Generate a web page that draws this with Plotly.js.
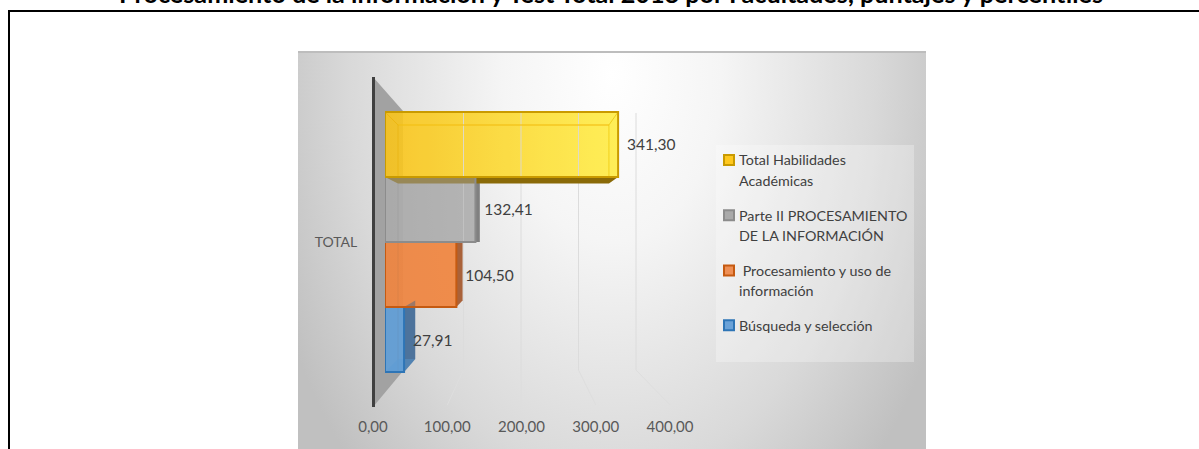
<!DOCTYPE html>
<html><head><meta charset="utf-8">
<script src="https://cdn.plot.ly/plotly-3.0.1.min.js"></script>
<style>html,body{margin:0;padding:0;background:#fff}#c{width:1199px;height:449px}</style>
</head><body><div id="c"></div>
<script>
const chartTitle = 'Procesamiento de la información y Test Total 2018 por Facultades, puntajes y percentiles';
const category = ['TOTAL'];
const seriesNames = ['Búsqueda y selección', ' Procesamiento y uso de<br>información', 'Parte II PROCESAMIENTO<br>DE LA INFORMACIÓN', 'Total Habilidades<br>Académicas'];
const seriesValues = [27.91, 104.50, 132.41, 341.30];
const faceColors = ['rgba(91,155,213,0.5)', 'rgba(237,125,49,0.5)', 'rgba(165,165,165,0.5)', 'rgba(255,205,30,0.12)'];
const swatchColors = ['#6aa2d8', '#ee8f55', '#a9a9a9', '#ffc81e'];
const edgeColors = ['#2e75b6', '#c55a11', '#8c8c8c', '#c99a00'];
const sideColors = ['#4d739c', '#a9623a', '#808080', '#8a6a08'];
const gradLeft = ['#6aa2d8', '#ee8f55', '#b0b0b0', '#f9c31a'];
const gradRight = ['#6aa2d8', '#f39052', '#bcbcbc', '#fff24a'];
const tickValues = [0, 100, 200, 300, 400];
const tickLabels = ['0,00', '100,00', '200,00', '300,00', '400,00'];

const W = 1199, H = 449;
const FONT = 'Lato, "Open Sans", sans-serif';
const px = x => x / W, py = y => 1 - y / H;
const xFront0 = 385, xFrontK = 0.683, xMax = 400;
const yTop = 77, yBot = 407, gap = 0.212, yMid = (yTop + yBot) / 2;
const barH = (yBot - yTop) * (1 - gap) / 4;
const frontY = i => [yMid + (1 - i) * barH, yMid + (2 - i) * barH];
const backX = v => 398 + 0.618 * v;
const frontX = v => xFront0 + xFrontK * v;
const backY = y => yMid + (y - yMid) * 0.9;
const gridX = v => 406 + 0.575 * v;
const tickX = v => 373 + 0.7425 * v;

function svgUri(s) { return 'data:image/svg+xml;utf8,' + encodeURIComponent(s); }
const bgSvg = `<svg xmlns="http://www.w3.org/2000/svg" width="628" height="398" preserveAspectRatio="none">
<defs><radialGradient id="g" cx="0.5" cy="0.06" r="1" gradientTransform="translate(.5,.06) scale(.58,1.4) translate(-.5,-.06)">
<stop offset="0" stop-color="#ffffff"/><stop offset=".3" stop-color="#f5f5f5"/><stop offset=".72" stop-color="#d9d9d9"/><stop offset="1" stop-color="#c0c0c0"/></radialGradient></defs>
<rect width="628" height="398" fill="url(#g)"/><rect width="628" height="2" fill="#bdbdbd"/>
<polygon points="75,26 105,60 105,320 75,356" fill="#a2a2a2"/></svg>`;
const images = [{source: svgUri(bgSvg), xref: 'paper', yref: 'paper', x: px(298), y: py(51), sizex: 628 / W, sizey: 398 / H, sizing: 'stretch', xanchor: 'left', yanchor: 'top', layer: 'below'}];
const shapes = [];
function poly(pts, fill) {
  const d = 'M' + pts.map(p => px(p[0]) + ',' + py(p[1])).join('L') + 'Z';
  shapes.push({type: 'path', xref: 'paper', yref: 'paper', path: d, fillcolor: fill, line: {color: 'rgba(0,0,0,0)', width: 0}, layer: 'below'});
}
function seg(x0, y0, x1, y1, c, w) {
  shapes.push({type: 'line', xref: 'paper', yref: 'paper', x0: px(x0), y0: py(y0), x1: px(x1), y1: py(y1), line: {color: c, width: w || 1}, layer: 'below'});
}
// legend panel
shapes.push({type: 'rect', xref: 'paper', yref: 'paper', x0: px(716), x1: px(914), y0: py(145), y1: py(362), fillcolor: 'rgba(255,255,255,0.28)', line: {width: 0}, layer: 'below'});
// outer frame (open at right and bottom, as in the source)
seg(8, 11, 1199, 11, '#000', 2); seg(9, 11, 9, 449, '#000', 2);
// gridlines on back wall and floor
tickValues.slice(1).forEach(v => {
  const gx = gridX(v), tx = tickX(v);
  seg(gx, 113, gx, 370, '#dcdcdc', 1);
  seg(gx, 370, tx, 405, '#dedede', 1);
});
// bar depth faces
seriesValues.forEach((v, i) => {
  const [t, b] = frontY(i);
  const fx = frontX(v), bx = backX(v), bt = backY(t), bb = backY(b), lx = backX(0);
  images.push({source: svgUri(`<svg xmlns="http://www.w3.org/2000/svg" width="100" height="10" preserveAspectRatio="none"><defs><linearGradient id="b"><stop offset="0" stop-color="${gradLeft[i]}"/><stop offset="1" stop-color="${gradRight[i]}"/></linearGradient></defs><rect width="100" height="10" fill="url(#b)" fill-opacity=".88"/></svg>`),
    xref: 'x', yref: 'paper', x: 0, y: py(t), sizex: v, sizey: barH / H, sizing: 'stretch', xanchor: 'left', yanchor: 'top', layer: 'below'});
  if (i === 3) {
    poly([[xFront0, b], [fx, b], [bx, bb], [lx, bb]], sideColors[i]);
    seg(lx, bt, bx, bt, 'rgba(243,190,20,.8)', 1.5); seg(lx, bt, lx, b, 'rgba(230,170,0,.5)', 1); seg(bx, bt, bx, b, 'rgba(235,195,0,.7)', 1);
    seg(xFront0, t, lx, bt, 'rgba(230,170,0,.6)', 1); seg(fx, t, bx, bt, 'rgba(230,190,0,.7)', 1);
  } else {
    poly([[fx, t], [bx, bt], [bx, bb], [fx, b]], sideColors[i]);
    seg(lx, t, lx, b, 'rgba(90,90,90,.2)', 1);
    if (i === 0) poly([[xFront0, b], [fx, b], [bx, bb], [lx, bb]], 'rgba(91,155,213,0.4)');
  }
});

const traces = seriesValues.map((v, i) => ({
  type: 'bar', orientation: 'h', name: seriesNames[i], legendgroup: 'g' + i, legendrank: 1000 + (seriesValues.length - i),
  y: category, x: [v],
  marker: {color: faceColors[i], line: {color: edgeColors[i], width: 2}},
  texttemplate: '\u00a0\u2009%{x:.2f}', textposition: 'outside', cliponaxis: false,
  textfont: {family: FONT, size: 15.5, color: '#404040'}, hoverinfo: 'x+name'
}));
// carries the printed value axis, which sits on the nearer plane of the 3-D box
traces.push({type: 'scatter', mode: 'markers', x: tickValues, y: tickValues.map(() => category[0]), xaxis: 'x2', yaxis: 'y', marker: {opacity: 0}, showlegend: false, hoverinfo: 'skip'});

const layout = {
  width: W, height: H, margin: {l: 0, r: 0, t: 0, b: 0}, paper_bgcolor: '#fff', plot_bgcolor: 'rgba(0,0,0,0)',
  separators: ',.', barmode: 'group', bargap: gap, bargroupgap: 0,
  font: {family: FONT, color: '#595959', size: 14},
  title: {text: '<b>' + chartTitle + '</b>', font: {family: FONT, size: 25.2, color: '#000'}, x: 611 / W, xanchor: 'center', y: 1, yanchor: 'middle'},
  xaxis: {domain: [px(xFront0), px(xFront0 + xFrontK * xMax)], range: [0, xMax], showticklabels: false, showgrid: false, zeroline: false, ticks: '', fixedrange: true},
  yaxis: {domain: [py(yBot), py(yTop)], anchor: 'free', position: px(373), type: 'category', showline: true, linecolor: '#404040', linewidth: 3, ticks: 'outside', ticklen: 12, tickcolor: 'rgba(0,0,0,0)', tickfont: {family: FONT, size: 14, color: '#595959'}, showgrid: false, zeroline: false},
  xaxis2: {domain: [px(tickX(0)), px(tickX(400))], range: [0, 400], anchor: 'free', position: py(412), side: 'bottom', tickmode: 'array', tickvals: tickValues, ticktext: tickLabels, showgrid: false, zeroline: false, showline: false, ticks: 'outside', ticklen: 1, tickcolor: 'rgba(0,0,0,0)', tickfont: {family: FONT, size: 15, color: '#595959'}},
  legend: {x: px(699), y: py(144), xanchor: 'left', yanchor: 'top', bgcolor: 'rgba(0,0,0,0)', traceorder: 'grouped', tracegroupgap: 15, font: {family: FONT, size: 14.3, color: '#404040'}, itemclick: false, itemdoubleclick: false},
  showlegend: true, images, shapes
};
Plotly.newPlot('c', traces, layout, {displayModeBar: false, staticPlot: true}).then(() => {
  // the title sits partly off the top edge, and the legend keys sit beside the first text line
  document.querySelectorAll('.g-gtitle').forEach(g => g.setAttribute('transform', 'translate(0,-6)'));
  document.querySelectorAll('#c .legend .traces').forEach(tr => {
    const lines = tr.querySelectorAll('.legendtext tspan.line');
    const two = lines.length > 1;
    if (two) lines[1].setAttribute('y', parseFloat(lines[1].getAttribute('y')) + 2);
    const sym = tr.querySelector('.legendsymbols');
    if (sym) sym.setAttribute('transform', 'translate(10,' + (two ? -9 : 0) + ')');
    const name = tr.querySelector('.legendtext').textContent.replace(/\s/g, '');
    const k = seriesNames.findIndex(n => n.replace('<br>', '').replace(/\s/g, '') === name);
    tr.querySelectorAll('.legendpoints path').forEach(p => {
      p.setAttribute('d', 'M5,5H-5V-5H5Z');
      if (k >= 0) { p.style.fill = swatchColors[k]; p.style.fillOpacity = '1'; }
    });
  });
});
</script></body></html>
